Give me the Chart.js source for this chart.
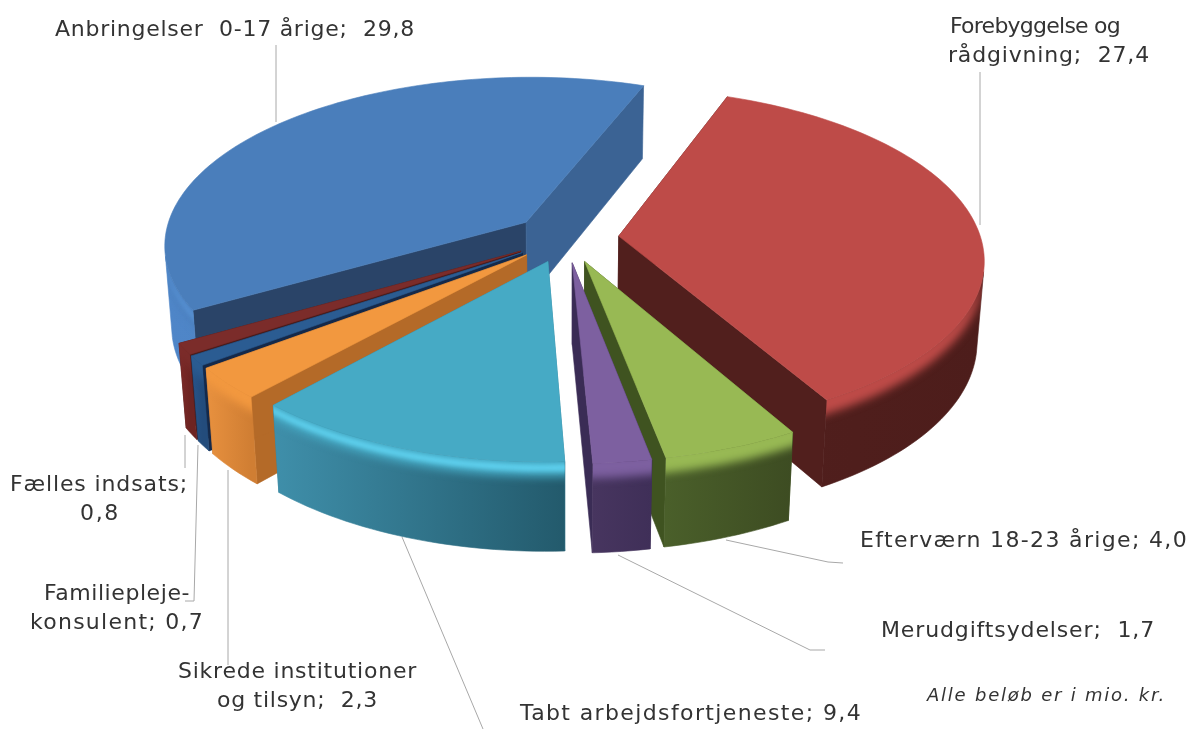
<!DOCTYPE html>
<html><head><meta charset="utf-8">
<script src="https://cdn.jsdelivr.net/npm/chart.js@4"></script>
<style>html,body{margin:0;padding:0;background:#fff}canvas{display:block}</style>
</head><body><canvas id="c" width="1190" height="729"></canvas>
<script>
const categories = ["Anbringelser 0-17 årige","Forebyggelse og rådgivning","Efterværn 18-23 årige","Merudgiftsydelser","Tabt arbejdsfortjeneste","Sikrede institutioner og tilsyn","Familieplejekonsulent","Fælles indsats"];
const values = [29.8,27.4,4.0,1.7,9.4,2.3,0.7,0.8];
const topColors  = ["#4A7EBB","#BE4B48","#98B954","#7D60A0","#46AAC5","#F2983F","#2B5C92","#7B2C2A"];
const wallLeft   = ["#4F86C8","#511F1D","#4A5F2A","#47355F","#3F8FAA","#E8913F","#28558A","#7C2A28"];
const wallRight  = ["#4A7FBE","#4D1D1B","#3D4C22","#3F2F58","#235A6C","#D07E33","#234C7C","#6E2422"];
const faceStart  = ["#2A4468","#511F1D","#3F5320","#3A2C55","#2F7F97","#B46A28","#14294A","#4A1A18"];
const faceEnd    = ["#3B6394","#511F1D","#3F5320","#3A2C55","#2F7F97","#B46A28","#14294A","#4A1A18"];
const rimColors  = ["#5E9BE0",null,null,null,"#62D6F4",null,null,null];
const explode    = [53,53,53,53,53,53,53,53];
const labelLines = [
  ["Anbringelser  0-17 årige;  29,8"],
  ["Forebyggelse og","rådgivning;  27,4"],
  ["Efterværn 18-23 årige; 4,0"],
  ["Merudgiftsydelser;  1,7"],
  ["Tabt arbejdsfortjeneste; 9,4"],
  ["Sikrede institutioner","og tilsyn;  2,3"],
  ["Familiepleje-","konsulent; 0,7"],
  ["Fælles indsats;","0,8"]
];
const note = "Alle beløb er i mio. kr.";
const paintOrder = [0,1,7,6,5,4,2,3];

const labelBoxes = [
  [[55,415,30]],
  [[950,1120,27],[948,1150,56]],
  [[860,1188,541]],
  [[881,1155,631]],
  [[520,862,714]],
  [[178,417,672],[217,378,701]],
  [[44,190,594],[30,204,623]],
  [[10,188,485],[80,120,514]]
];
const leaders = [
  [[276,45],[276,122]],
  [[980,72],[980,225]],
  [[726,540],[828,562],[843,563]],
  [[618,555],[810,650],[825,650]],
  [[402,537],[483,729]],
  [[228,470],[228,665]],
  [[198,445],[194,601],[185,601]],
  [[185,435],[185,468]]
];
const cam = {cx:566, cy:238, elev:27.6*Math.PI/180, dist:2470, depth:92, bevel:15};
function project(X,Y,Z){
  const s=Math.sin(cam.elev), c=Math.cos(cam.elev);
  const yc=Y*s-Z*c, zc=cam.dist-(Y*c+Z*s), f=cam.dist/zc;
  return [cam.cx+X*f, cam.cy+yc*f];
}
function arcPts(el,off,Z,extra){
  const mid=(el.startAngle+el.endAngle)/2, ox=Math.cos(mid)*off, oy=Math.sin(mid)*off;
  const a0=el.startAngle-(extra||0), a1=el.endAngle+(extra||0);
  const n=Math.max(4,Math.ceil((a1-a0)*40)), pts=[], vis=[];
  const Dy=cam.dist*Math.cos(cam.elev);
  for(let i=0;i<=n;i++){
    const a=a0+(a1-a0)*i/n;
    const X=ox+Math.cos(a)*el.outerRadius, Y=oy+Math.sin(a)*el.outerRadius;
    pts.push(project(X,Y,Z));
    vis.push(-X*Math.cos(a)+(Dy-Y)*Math.sin(a)>0);
  }
  return {pts, vis, apex:project(ox,oy,Z)};
}
function addPoly(ctx,p){p.forEach((q,i)=>i?ctx.lineTo(q[0],q[1]):ctx.moveTo(q[0],q[1]));ctx.closePath();}
function poly(ctx,p,fill){
  ctx.beginPath();addPoly(ctx,p);ctx.fillStyle=fill;ctx.fill();
  ctx.strokeStyle=fill;ctx.lineWidth=.6;ctx.stroke();
}
// traces only the runs of the rim that face the camera
function traceBand(ctx,a,b){
  ctx.beginPath();
  let run=[];
  const flush=()=>{ if(run.length>1) addPoly(ctx,run.map(i=>a.pts[i]).concat(run.map(i=>b.pts[i]).reverse())); run=[]; };
  a.pts.forEach((_,i)=>{ if(a.vis[i]) run.push(i); else flush(); });
  flush();
}

const pie3d = {
  id:'pie3d',
  beforeDatasetDraw(chart,args){
    const ctx=chart.ctx, els=chart.getDatasetMeta(args.index).data;
    ctx.save();
    paintOrder.forEach(i=>{
      const el=els[i], off=el.options.offset;
      const T=arcPts(el,off,0), B=arcPts(el,off,-cam.depth);
      poly(ctx,[T.apex,T.pts[0],B.pts[0],B.apex],faceStart[i]);
      const L=T.pts.length-1;
      poly(ctx,[T.apex,T.pts[L],B.pts[L],B.apex],faceEnd[i]);
      const xs=T.pts.map(p=>p[0]), g=ctx.createLinearGradient(Math.min(...xs),0,Math.max(...xs),0);
      g.addColorStop(0,wallLeft[i]);g.addColorStop(1,wallRight[i]);
      traceBand(ctx,T,B);
      ctx.fillStyle=g;ctx.fill();ctx.strokeStyle=g;ctx.lineWidth=.6;ctx.stroke();
      // soft bevel, clipped to the wall
      ctx.save();
      traceBand(ctx,T,B);ctx.clip();
      ctx.filter='blur(4px)';
      traceBand(ctx,arcPts(el,off,8,.06),arcPts(el,off,-cam.bevel,.06));
      ctx.fillStyle=topColors[i];ctx.fill();
      if(rimColors[i]){
        ctx.filter='blur(2.5px)';
        traceBand(ctx,arcPts(el,off,-3,.06),arcPts(el,off,-9,.06));
        ctx.fillStyle=rimColors[i];ctx.fill();
      }
      ctx.restore();
      poly(ctx,[T.apex].concat(T.pts),topColors[i]);
    });
    ctx.restore();
    return false;
  },
  afterDatasetsDraw(chart){
    const ctx=chart.ctx;
    ctx.save();
    ctx.strokeStyle="#A8A8A8";ctx.lineWidth=1;
    leaders.forEach(l=>{ctx.beginPath();l.forEach((p,i)=>i?ctx.lineTo(p[0],p[1]):ctx.moveTo(p[0],p[1]));ctx.stroke();});
    ctx.fillStyle="#333333";ctx.textBaseline="middle";ctx.textAlign="left";
    const fit=(t,x0,x1,y)=>{
      ctx.letterSpacing="0px";
      const w=ctx.measureText(t).width;
      ctx.letterSpacing=((x1-x0-w)/t.length).toFixed(3)+"px";
      ctx.fillText(t,x0,y);
    };
    ctx.font="22px 'DejaVu Sans'";
    labelLines.forEach((ls,i)=>ls.forEach((t,j)=>{const b=labelBoxes[i][j];fit(t,b[0],b[1],b[2]);}));
    ctx.font="italic 18px 'DejaVu Sans'";
    fit(note,927,1166,696);
    ctx.restore();
  }
};
new Chart(document.getElementById('c'),{
  type:'pie',
  data:{labels:categories,datasets:[{data:values,backgroundColor:topColors,offset:explode,borderWidth:0}]},
  options:{responsive:false,animation:false,rotation:-120.2,radius:362,
    layout:{padding:0},plugins:{legend:{display:false},tooltip:{enabled:false}}},
  plugins:[pie3d]
});
</script></body></html>
